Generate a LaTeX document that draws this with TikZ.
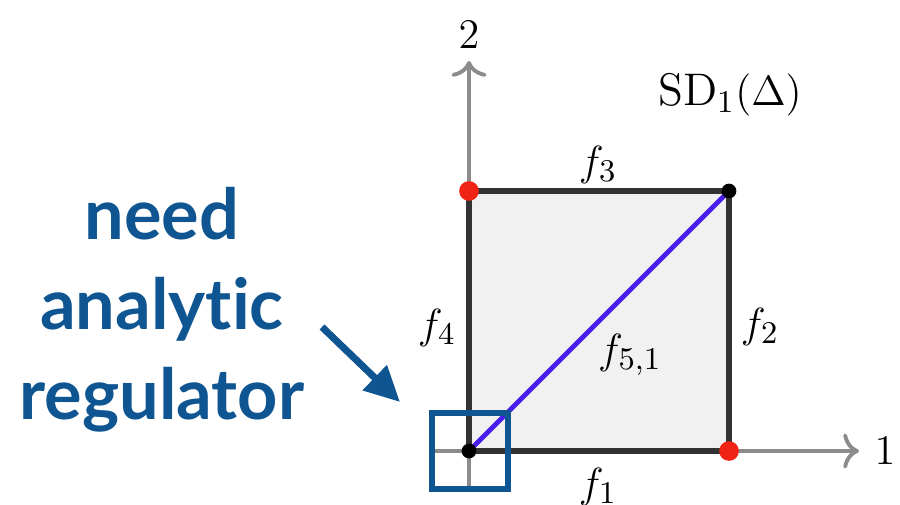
\documentclass[tikz,border=0pt]{standalone}
\usepackage{fontspec}
\newfontfamily\notefont[Ligatures=NoCommon]{Lato}
\usetikzlibrary{arrows.meta}
\definecolor{regblue}{RGB}{14,85,145}
\definecolor{diagviolet}{RGB}{75,30,235}
\definecolor{ptred}{RGB}{240,35,20}
\definecolor{edgegray}{RGB}{50,50,50}
\definecolor{axisgray}{RGB}{140,140,140}
\definecolor{facegray}{RGB}{241,241,241}

\begin{document}
\begin{tikzpicture}[
	axis/.style={line width=1.1pt, color=axisgray, -{To[length=4.5pt,width=10pt]}},
	edge/.style={line width=1.5pt, color=edgegray},
	vert/.style={circle, fill, inner sep=0pt, minimum size=#1},
	lbl/.style={font=\fontsize{13}{15}\selectfont}
]
	\useasboundingbox (-4.69,-0.54) rectangle (4.31,4.51);
	% axes
	\coordinate (x0) at (-0.34,0);
	\coordinate (x1) at (3.9,0);
	\coordinate (y0) at (0,-0.38);
	\coordinate (y1) at (0,3.9);
	\draw[axis] (x0) -- (x1);
	\draw[axis] (y0) -- (y1);
	\node[lbl] (one) at (4.16,0) {$1$};
	\node[lbl] (two) at (0,4.16) {$2$};
	% the square SD_1(Delta)
	\coordinate (v00) at (0,0);
	\coordinate (v10) at (2.6,0);
	\coordinate (v11) at (2.6,2.6);
	\coordinate (v01) at (0,2.6);
	\fill[facegray] (v00) rectangle (v11);
	\draw[edge] (v00) -- (v10) -- (v11) -- (v01) -- cycle;
	\draw[line width=1.4pt, color=diagviolet] (v00) -- (v11);
	\node[vert=5.6pt, ptred] (r1) at (v01) {};
	\node[vert=5.6pt, ptred] (r2) at (v10) {};
	\node[vert=4.2pt, black] (b1) at (v11) {};
	\node[vert=4.2pt, black] (b0) at (v00) {};
	% face labels
	\node[lbl] (sd) at (2.61,3.56) {$\mathrm{SD}_1(\Delta)$};
	\node[lbl] (f1) at (1.29,-0.36) {$f_1$};
	\node[lbl] (f2) at (2.91,1.24) {$f_2$};
	\node[lbl] (f3) at (1.29,2.86) {$f_3$};
	\node[lbl] (f4) at (-0.32,1.23) {$f_4$};
	\node[lbl] (f51) at (1.61,0.96) {$f_{5,1}$};
	% corner that needs a regulator
	\node[draw=regblue, line width=1.6pt, minimum size=0.76cm, inner sep=0pt] (box) at (0.01,0) {};
	\node[align=center, text=regblue, font=\notefont\bfseries\fontsize{20}{25.6}\selectfont] (note) at (-3.07,1.41) {need\\analytic\\regulator};
	\coordinate (tail) at (-1.47,1.24);
	\coordinate (head) at (-0.69,0.49);
	\draw[line width=2pt, color=regblue, -{Triangle[length=10pt,width=9.5pt]}] (tail) -- (head);
\end{tikzpicture}
\end{document}
